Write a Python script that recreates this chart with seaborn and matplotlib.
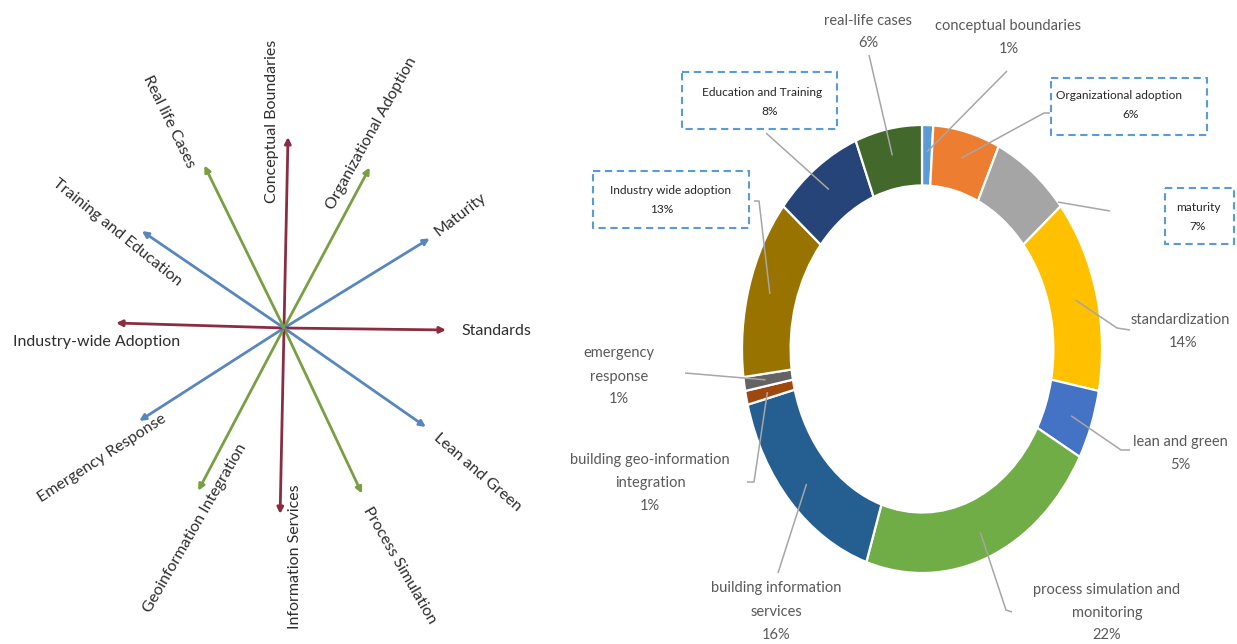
import math

import matplotlib
matplotlib.use("Agg")
import matplotlib.pyplot as plt
import seaborn as sns
from matplotlib.patches import Rectangle

# ---------------- star diagram: research themes radiating from one origin
star_labels = ["Conceptual Boundaries", "Organizational Adoption", "Maturity", "Standards",
               "Lean and Green", "Process Simulation", "Information Services",
               "Geoinformation Integration", "Emergency Response", "Industry-wide Adoption",
               "Training and Education", "Real life Cases"]
star_angles = [88.8, 61.9, 31.6, -0.7, -34.9, -64.8, -91.2, -117.8, -147.3, 178.3, 145.7, 116.1]
star_lengths = [191, 182, 171, 162, 173, 183, 186, 184, 172, 168, 172, 181]
star_groups = ["red", "green", "blue", "red", "blue", "green",
               "red", "green", "blue", "red", "blue", "green"]

# ---------------- donut: share of studies per theme (clockwise from 12 o'clock)
donut_labels = ["conceptual boundaries", "Organizational adoption", "maturity", "standardization",
                "lean and green", "process simulation and monitoring",
                "building information services", "building geo-information integration",
                "emergency response", "Industry wide adoption", "Education and Training",
                "real-life cases"]
donut_values = [1, 6, 7, 14, 5, 22, 16, 1, 1, 13, 8, 6]

donut_colors = ["#5B9BD5", "#ED7D31", "#A5A5A5", "#FFC000", "#4472C4", "#70AD47",
                "#255E91", "#9E480E", "#636363", "#997300", "#264478", "#43682B"]
group_colors = {"red": "#8A2D42", "green": "#78A043", "blue": "#5886BE"}

# label layout for the donut (pixel space): text lines, centres, box, leader path
donut_layout = [
    dict(lines=["conceptual boundaries"], x=1008, y=[26], px=1009, py=49,
         leader=[(1007, 71)]),
    dict(lines=["Organizational adoption"], x=1119, y=[95], px=1131, py=114, box=(1051, 78, 1207, 135),
         leader=[(1050, 113), (1044, 113)]),
    dict(lines=["maturity"], x=1198, y=[207], px=1198, py=226, box=(1165, 188, 1234, 244),
         leader=[(1110, 211)], r=1.0, ang=49),
    dict(lines=["standardization"], x=1180, y=[320], px=1183, py=343,
         leader=[(1130, 330), (1117, 328)]),
    dict(lines=["lean and green"], x=1180, y=[442], px=1180, py=465,
         leader=[(1130, 450), (1121, 450)]),
    dict(lines=["process simulation and", "monitoring"], x=1107, y=[590, 613], px=1107, py=635,
         leader=[(1012, 612), (1006, 610)]),
    dict(lines=["building information", "services"], x=776, y=[588, 612], px=776, py=635,
         leader=[(778, 573)]),
    dict(lines=["building geo-information", "integration"], x=650, y=[460, 483], px=650, py=506,
         leader=[(747, 482), (754, 482)]),
    dict(lines=["emergency", "response"], x=619, y=[353, 377], px=619, py=399,
         leader=[(685, 373)]),
    dict(lines=["Industry wide adoption"], x=671, y=[190], px=662, py=209, box=(593, 171, 749, 228),
         leader=[(754, 201), (759, 201)]),
    dict(lines=["Education and Training"], x=762, y=[92], px=770, py=111, box=(682, 72, 837, 129),
         leader=[(766, 133)]),
    dict(lines=["real-life cases"], x=868, y=[21], px=868, py=43,
         leader=[(869, 55)]),
]

# label layout for the star diagram: (centre x, centre y, rotation)
star_text_layout = [(272, 121, 90), (372, 133, 61), (460, 215, 38), (496, 331, 0),
                    (477, 472, -41), (400, 565, -60), (295, 557, 90), (195, 528, 60),
                    (102, 458, 33), (97, 342, 0), (117, 232, -39), (169, 122, -64)]

sns.set_theme(style="white")
plt.rcParams["font.family"] = ["Lato", "DejaVu Sans"]

W, H = 1237, 644
fig = plt.figure(figsize=(W / 100, H / 100), dpi=100)
fig.patch.set_facecolor("white")

# donut axes (slightly taller than wide)
cx, cy, rx, ry = 922, 349, 180, 224
ax_d = fig.add_axes([(cx - rx) / W, (H - cy - ry) / H, 2 * rx / W, 2 * ry / H])
ax_d.pie(donut_values, colors=donut_colors, startangle=90, counterclock=False, radius=1,
         wedgeprops=dict(width=0.27, edgecolor="white", linewidth=1.6))
ax_d.set_xlim(-1, 1)
ax_d.set_ylim(-1, 1)
ax_d.set_aspect("auto")
ax_d.axis("off")

# overlay in pixel coordinates for the star diagram and the donut labels
ax = fig.add_axes([0, 0, 1, 1])
ax.set_xlim(0, W)
ax.set_ylim(H, 0)
ax.axis("off")
ax.patch.set_alpha(0)

# star arrows
ox, oy = 284, 328
for a, L, g in zip(star_angles, star_lengths, star_groups):
    rad = math.radians(a)
    tip = (ox + L * math.cos(rad), oy - L * math.sin(rad))
    ax.annotate("", xy=tip, xytext=(ox, oy),
                arrowprops=dict(arrowstyle="-|>", color=group_colors[g], lw=2.0,
                                mutation_scale=9, shrinkA=0, shrinkB=0))
for lab, (tx, ty, rot) in zip(star_labels, star_text_layout):
    ax.text(tx, ty, lab, rotation=rot, rotation_mode="anchor", ha="center", va="center",
            fontsize=11.5, color="#2E2E2E")

# donut labels and leader lines
to_disp = ax_d.transData
from_disp = ax.transData.inverted()
total = sum(donut_values)
cum = 0
for val, lay in zip(donut_values, donut_layout):
    mid = 360 * (cum + val / 2) / total
    cum += val
    theta = math.radians(lay.get("ang", mid))
    r = lay.get("r", 0.88)
    inner = from_disp.transform(to_disp.transform((r * math.sin(theta), r * math.cos(theta))))
    pts = lay["leader"] + [tuple(inner)]
    ax.plot([p[0] for p in pts], [p[1] for p in pts], color="#A6A6A6", lw=1.1,
            solid_capstyle="butt")
    boxed = "box" in lay
    fs = 8.6 if boxed else 10.5
    col = "#262626" if boxed else "#595959"
    for line, ly in zip(lay["lines"], lay["y"]):
        ax.text(lay["x"], ly, line, ha="center", va="center", fontsize=fs, color=col)
    ax.text(lay["px"], lay["py"], f"{val}%", ha="center", va="center", fontsize=fs, color=col)
    if boxed:
        x0, y0, x1, y1 = lay["box"]
        ax.add_patch(Rectangle((x0, y0), x1 - x0, y1 - y0, fill=False, edgecolor="#5B9BD5",
                               lw=1.5, linestyle=(0, (3.5, 2.2))))

fig.savefig("out.png", dpi=100, facecolor="white")
